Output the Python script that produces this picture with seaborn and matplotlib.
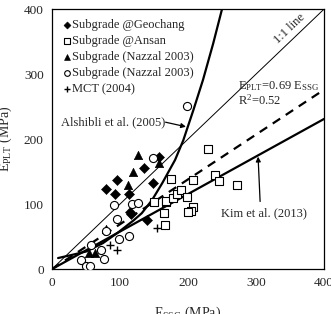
import numpy as np
import pandas as pd
import matplotlib
matplotlib.use("Agg")
import matplotlib.pyplot as plt
import seaborn as sns

geochang_x = [79, 92, 96, 113, 136, 148, 158, 114, 139, 116]
geochang_y = [123, 116, 137, 115, 156, 133, 173, 88, 76, 84]

ansan_x = [229, 240, 245, 272, 207, 175, 150, 167, 168, 178, 184, 190, 199, 207, 204, 200, 165, 166]
ansan_y = [185, 145, 136, 129, 137, 138, 103, 103, 105, 109, 115, 122, 111, 95, 89, 88, 86, 68]

nazzal_tri_x = [126, 119, 112, 158, 80, 55, 63]
nazzal_tri_y = [176, 149, 129, 163, 62, 25, 25]

nazzal_circ_x = [199, 149, 91, 95, 118, 126, 99, 113, 42, 50, 56, 72, 76, 58, 79]
nazzal_circ_y = [251, 171, 98, 77, 100, 102, 46, 51, 14, 5, 5, 29, 16, 37, 59]

mct_x = [154, 85, 95]
mct_y = [63, 37, 29]

one_x = [0, 400]
one_y = [0, 400]
fit_x = [0, 400]
fit_y = [0, 276]
kim_x = [0, 400]
kim_y = [0, 231]
alshibli_x = [9, 30, 50, 75, 98, 120, 132, 147, 162, 181, 193, 208, 222, 237, 250]
alshibli_y = [17, 22, 27, 40, 57, 75, 86, 106, 132, 168, 198, 245, 291, 347, 400]

sns.set_style("white")
plt.rcParams['font.family'] = ['Liberation Serif', 'DejaVu Serif']
plt.rcParams['mathtext.fontset'] = 'custom'
plt.rcParams['mathtext.rm'] = 'Liberation Serif'
plt.rcParams['mathtext.it'] = 'Liberation Serif:italic'

fig = plt.figure(figsize=(3.31, 3.14), dpi=100)
ax = fig.add_axes([0.157, 0.143, 0.822, 0.828])

# lines
sns.lineplot(x=one_x, y=one_y, ax=ax, color='black', lw=0.7, estimator=None, sort=False)
sns.lineplot(x=fit_x, y=fit_y, ax=ax, color='black', lw=1.6, estimator=None, sort=False,
             dashes=False, linestyle=(0, (4, 3)))
sns.lineplot(x=kim_x, y=kim_y, ax=ax, color='black', lw=1.6, estimator=None, sort=False)
sns.lineplot(x=alshibli_x, y=alshibli_y, ax=ax, color='black', lw=1.6, estimator=None, sort=False)

# points
kw = dict(ax=ax, edgecolor='black', zorder=3)
sns.scatterplot(x=geochang_x, y=geochang_y, marker='D', s=26, color='black',
                label='Subgrade @Geochang', **kw)
sns.scatterplot(x=ansan_x, y=ansan_y, marker='s', s=28, facecolor='white', linewidth=0.8,
                label='Subgrade @Ansan', **kw)
sns.scatterplot(x=nazzal_tri_x, y=nazzal_tri_y, marker='^', s=36, color='black',
                label='Subgrade (Nazzal 2003)', **kw)
sns.scatterplot(x=nazzal_circ_x, y=nazzal_circ_y, marker='o', s=34, facecolor='white', linewidth=0.8,
                label='Subgrade (Nazzal 2003)', **kw)
sns.scatterplot(x=mct_x, y=mct_y, marker='+', s=40, color='black', linewidth=1.0,
                label='MCT (2004)', ax=ax, zorder=3)

leg = ax.legend(loc='upper left', frameon=False, fontsize=9, markerscale=0.7,
                handlelength=0.5, handletextpad=0.12, labelspacing=0.32,
                borderaxespad=0.0, bbox_to_anchor=(0.025, 0.98))

ax.set_xlim(0, 400)
ax.set_ylim(0, 400)
ax.set_xticks([0, 100, 200, 300, 400])
ax.set_yticks([0, 100, 200, 300, 400])
ax.tick_params(direction='in', length=3, labelsize=9.5, pad=6, width=0.8)
for sp in ax.spines.values():
    sp.set_color('black')
    sp.set_linewidth(0.9)

ax.set_xlabel(r'E$_{\rm SSG}$ (MPa)', fontsize=10, labelpad=11)
ax.set_ylabel(r'E$_{\rm PLT}$ (MPa)', fontsize=10, labelpad=7)

ax.text(349, 370, '1:1 line', rotation=43.7, fontsize=9, ha='center', va='center')
ax.text(274, 281, r'E$_{\rm PLT}$=0.69 E$_{\rm SSG}$', fontsize=9, va='center')
ax.text(274, 259, r'R$^2$=0.52', fontsize=9, va='center')

arrow = dict(arrowstyle='-|>', color='black', lw=0.9, mutation_scale=7, shrinkA=0, shrinkB=0)
ax.text(14, 226, 'Alshibli et al. (2005)', fontsize=9, va='center')
ax.annotate('', xy=(197, 219), xytext=(167, 226), arrowprops=arrow)
ax.text(311, 86, 'Kim et al. (2013)', fontsize=9, ha='center', va='center')
ax.annotate('', xy=(303, 173), xytext=(306, 104), arrowprops=arrow)

fig.savefig('out.png', dpi=100)
